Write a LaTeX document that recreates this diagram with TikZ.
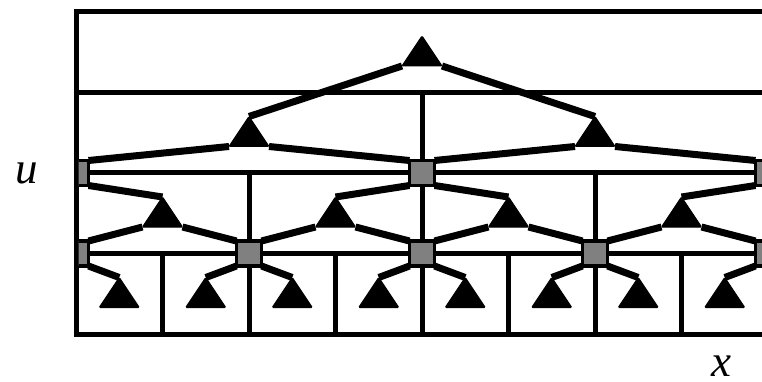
\documentclass[tikz,border=0pt]{standalone}
\usepackage{fontspec}
\setmainfont{Liberation Serif}
\usetikzlibrary{shapes.geometric}
\definecolor{sqgray}{RGB}{128,128,128}
\pgfdeclarelayer{bg}
\pgfsetlayers{bg,main}
\begin{document}
\begin{tikzpicture}[x=1pt,y=-1pt,
  gridline/.style={line width=5pt, line cap=rect, line join=miter},
  edge/.style={line width=7pt, line cap=butt},
  tri/.style={isosceles triangle, shape border rotate=90, isosceles triangle stretches,
    minimum width=40pt, minimum height=30pt, inner sep=0pt, outer sep=0pt,
    fill=black, draw=black, line width=1pt, rounded corners=1pt, anchor=apex},
  sq/.style={rectangle, minimum size=25pt, inner sep=0pt, outer sep=0pt,
    fill=sqgray, draw=black, line width=3.5pt},
  lab/.style={font=\fontsize{45}{50}\selectfont\itshape, inner sep=0pt, anchor=base}]
\useasboundingbox (0,0) rectangle (762,382);
\node[lab] (u) at (26.5,183) {u};
\node[lab] (x) at (721,376.5) {x};
\begin{scope}
\clip (78.5,0) rectangle (762,382);
% triangles
\node[tri] (t0) at (422,36) {};
\node[tri] (t1a) at (249,116.5) {};
\node[tri] (t1b) at (595,116.5) {};
\node[tri] (t2a) at (162.5,197) {};
\node[tri] (t2b) at (335.5,197) {};
\node[tri] (t2c) at (508.5,197) {};
\node[tri] (t2d) at (681.5,197) {};
\node[tri] (t3a) at (119.25,277.5) {};
\node[tri] (t3b) at (205.75,277.5) {};
\node[tri] (t3c) at (292.25,277.5) {};
\node[tri] (t3d) at (378.75,277.5) {};
\node[tri] (t3e) at (465.25,277.5) {};
\node[tri] (t3f) at (551.75,277.5) {};
\node[tri] (t3g) at (638.25,277.5) {};
\node[tri] (t3h) at (724.75,277.5) {};
% squares
\node[sq] (s1a) at (76,173) {};
\node[sq] (s1b) at (422,173) {};
\node[sq] (s1c) at (768,173) {};
\node[sq] (s2a) at (76,253.5) {};
\node[sq] (s2b) at (249,253.5) {};
\node[sq] (s2c) at (422,253.5) {};
\node[sq] (s2d) at (595,253.5) {};
\node[sq] (s2e) at (768,253.5) {};
\end{scope}
\begin{pgfonlayer}{bg}
\begin{scope}
\clip (0,0) rectangle (762,382);
\draw[gridline] (76,334) -- (76,12) -- (800,12);
\draw[gridline] (76,334) -- (800,334);
\draw[gridline] (76,92.5) -- (800,92.5);
\draw[gridline] (76,173) -- (800,173);
\draw[gridline] (76,253.5) -- (800,253.5);
\draw[gridline] (422,92.5) -- (422,334);
\foreach \xx in {249,595} \draw[gridline] (\xx,173) -- (\xx,334);
\foreach \xx in {162.5,335.5,508.5,681.5} \draw[gridline] (\xx,253.5) -- (\xx,334);
\end{scope}
\begin{scope}
\clip (78.5,0) rectangle (762,382);
\draw[edge] (t0.left corner) -- (t1a.apex);
\draw[edge] (t0.right corner) -- (t1b.apex);
\draw[edge] (t1a.left corner) -- (s1a.north east);
\draw[edge] (t1a.right corner) -- (s1b.north west);
\draw[edge] (t1b.left corner) -- (s1b.north east);
\draw[edge] (t1b.right corner) -- (s1c.north west);
\draw[edge] (s1a.south east) -- (t2a.apex);
\draw[edge] (s1b.south west) -- (t2b.apex);
\draw[edge] (s1b.south east) -- (t2c.apex);
\draw[edge] (s1c.south west) -- (t2d.apex);
\draw[edge] (t2a.left corner) -- (s2a.north east);
\draw[edge] (t2a.right corner) -- (s2b.north west);
\draw[edge] (t2b.left corner) -- (s2b.north east);
\draw[edge] (t2b.right corner) -- (s2c.north west);
\draw[edge] (t2c.left corner) -- (s2c.north east);
\draw[edge] (t2c.right corner) -- (s2d.north west);
\draw[edge] (t2d.left corner) -- (s2d.north east);
\draw[edge] (t2d.right corner) -- (s2e.north west);
\draw[edge] (s2a.south east) -- (t3a.apex);
\draw[edge] (s2b.south west) -- (t3b.apex);
\draw[edge] (s2b.south east) -- (t3c.apex);
\draw[edge] (s2c.south west) -- (t3d.apex);
\draw[edge] (s2c.south east) -- (t3e.apex);
\draw[edge] (s2d.south west) -- (t3f.apex);
\draw[edge] (s2d.south east) -- (t3g.apex);
\draw[edge] (s2e.south west) -- (t3h.apex);
\end{scope}
\end{pgfonlayer}
\end{tikzpicture}
\end{document}
